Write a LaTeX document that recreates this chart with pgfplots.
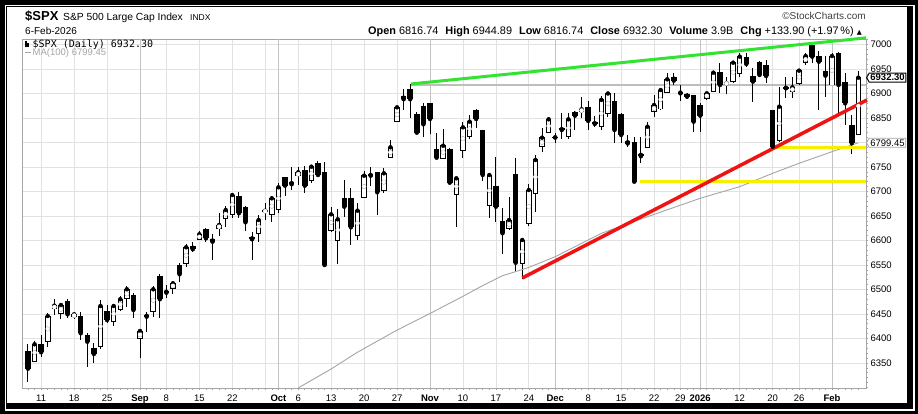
\documentclass[border=0pt]{standalone}
\usepackage{fontspec}
\setmainfont{Liberation Sans}
\newfontfamily\monofont{DejaVu Sans Mono}
\newfontfamily\dejavu{DejaVu Sans}
\usepackage{pgfplots}
\usepackage{pgfplotstable}
\pgfplotsset{compat=1.18}
\usetikzlibrary{shapes.symbols}

\definecolor{gridc}{RGB}{226,226,226}
\definecolor{monthc}{RGB}{195,195,195}
\definecolor{axisc}{RGB}{165,165,165}
\definecolor{lgreen}{RGB}{51,226,51}
\definecolor{lred}{RGB}{238,20,20}
\definecolor{lyellow}{RGB}{245,240,0}
\definecolor{magray}{RGB}{165,165,165}
\definecolor{hgray}{RGB}{190,190,190}
\newcommand\tickfont{\fontsize{9.5}{10}\selectfont}

\pgfplotstableread{
i O H L C
0 6374.4 6388.1 6310.5 6338.3
1 6354.0 6394.8 6352.0 6388.1
2 6388.7 6407.1 6362.8 6371.8
3 6393.4 6451.4 6383.2 6445.9
4 6461.6 6480.6 6448.0 6466.9
5 6451.4 6473.0 6439.1 6468.3
6 6476.5 6480.6 6441.2 6449.3
7 6444.5 6454.6 6439.1 6449.3
8 6445.9 6454.6 6396.9 6410.6
9 6407.1 6410.6 6342.5 6393.4
10 6381.2 6391.4 6350.5 6368.3
11 6383.2 6478.5 6378.0 6466.3
12 6456.0 6468.3 6432.0 6437.7
13 6434.2 6468.3 6426.0 6466.3
14 6460.1 6486.7 6456.7 6480.0
15 6482.0 6507.1 6464.9 6500.4
16 6488.7 6492.2 6442.4 6458.1
17 6400.3 6418.0 6359.5 6415.2
18 6448.0 6454.6 6413.8 6444.5
19 6456.0 6507.1 6444.5 6500.4
20 6527.5 6531.6 6442.4 6480.0
21 6497.5 6509.1 6482.0 6493.4
22 6502.4 6517.3 6490.0 6512.6
23 6549.9 6553.4 6514.6 6531.0
24 6553.4 6592.8 6545.3 6586.1
25 6588.7 6597.5 6577.1 6582.0
26 6602.4 6619.4 6601.0 6612.6
27 6622.8 6625.5 6597.5 6604.4
28 6602.4 6613.2 6560.1 6597.5
29 6624.9 6655.5 6609.1 6631.6
30 6645.3 6671.0 6628.1 6662.2
31 6653.4 6697.5 6645.3 6692.8
32 6690.8 6698.9 6645.3 6655.5
33 6667.7 6670.4 6620.0 6637.1
34 6606.5 6616.7 6560.1 6602.4
35 6614.7 6652.0 6597.5 6641.8
36 6658.7 6677.1 6641.8 6660.8
37 6654.1 6690.8 6638.3 6686.1
38 6663.6 6717.9 6655.5 6708.5
39 6728.9 6730.2 6691.4 6711.8
40 6720.0 6749.4 6703.0 6714.7
41 6731.6 6750.6 6713.2 6739.2
42 6743.9 6752.1 6697.5 6711.8
43 6722.0 6754.1 6716.7 6750.6
44 6757.5 6762.2 6731.6 6733.6
45 6739.2 6759.6 6548.5 6549.9
46 6620.0 6668.9 6617.9 6653.4
47 6599.6 6665.0 6552.0 6643.2
48 6686.1 6723.4 6648.5 6668.9
49 6686.1 6707.7 6590.8 6626.9
50 6609.8 6677.1 6601.0 6660.8
51 6688.1 6742.4 6688.0 6732.2
52 6735.1 6749.4 6711.2 6732.2
53 6739.2 6740.0 6652.0 6698.3
54 6701.6 6747.3 6697.5 6737.1
55 6769.8 6805.1 6769.8 6790.2
56 6842.4 6874.5 6841.2 6871.8
57 6894.9 6908.6 6866.3 6888.2
58 6908.6 6919.4 6849.4 6888.2
59 6857.5 6862.0 6818.7 6820.0
60 6875.1 6881.2 6811.8 6837.1
61 6880.0 6881.2 6817.3 6847.9
62 6786.1 6820.0 6766.0 6769.0
63 6766.9 6826.9 6766.0 6793.4
64 6786.1 6788.0 6715.0 6717.9
65 6694.3 6728.0 6628.1 6726.9
66 6784.7 6842.4 6767.7 6831.0
67 6813.2 6856.1 6806.5 6842.4
68 6866.3 6867.7 6829.0 6847.9
69 6825.5 6826.0 6722.0 6733.6
70 6670.4 6735.0 6645.3 6733.6
71 6711.2 6771.0 6638.3 6668.9
72 6639.8 6665.7 6572.4 6614.7
73 6624.9 6689.4 6622.0 6641.8
74 6735.7 6767.7 6535.1 6554.6
75 6553.4 6603.0 6522.0 6601.0
76 6635.1 6715.3 6630.0 6703.0
77 6694.9 6774.5 6657.5 6764.3
78 6791.4 6829.0 6781.2 6809.8
79 6820.0 6852.6 6818.7 6847.3
80 6811.0 6820.0 6798.0 6810.0
81 6829.0 6859.6 6806.5 6825.5
82 6811.8 6859.6 6806.5 6847.3
83 6862.8 6864.0 6825.5 6854.7
84 6862.8 6892.2 6849.4 6867.7
85 6871.8 6885.3 6825.5 6843.9
86 6841.0 6855.0 6832.0 6838.0
87 6832.2 6895.0 6825.5 6887.0
88 6860.0 6904.0 6853.0 6900.0
89 6884.7 6900.4 6798.4 6825.5
90 6858.2 6860.0 6798.4 6815.3
91 6803.0 6815.0 6790.0 6798.0
92 6800.4 6810.6 6718.0 6720.0
93 6777.5 6811.8 6757.5 6772.0
94 6790.2 6842.4 6790.0 6832.2
95 6862.9 6896.9 6851.4 6876.5
96 6868.4 6908.5 6866.3 6907.1
97 6902.4 6942.5 6900.3 6928.9
98 6934.4 6942.5 6917.3 6926.2
99 6903.7 6917.3 6885.4 6900.3
100 6898.3 6900.3 6889.0 6893.5
101 6896.9 6896.9 6822.1 6842.5
102 6876.5 6879.9 6822.1 6854.8
103 6890.1 6903.7 6886.7 6900.3
104 6903.7 6944.6 6903.0 6942.5
105 6944.6 6962.9 6900.3 6917.3
106 6920.0 6934.4 6899.0 6921.0
107 6924.2 6965.0 6922.0 6962.9
108 6941.2 6983.3 6934.4 6975.2
109 6973.8 6982.0 6954.8 6960.2
110 6936.4 6951.4 6883.3 6924.2
111 6965.0 6967.0 6934.4 6937.8
112 6958.2 6968.4 6922.1 6935.7
113 6866.3 6866.3 6790.1 6791.5
114 6805.1 6913.9 6801.7 6873.1
115 6912.6 6934.4 6890.1 6910.5
116 6903.7 6934.4 6890.1 6912.6
117 6920.8 6949.3 6917.3 6946.6
118 6962.9 6982.0 6958.2 6976.5
119 6999.0 7002.4 6961.6 6975.2
120 6976.5 6987.4 6866.3 6965.0
121 6946.6 6976.5 6893.5 6936.4
122 6917.3 6983.3 6917.3 6976.5
123 6982.0 6985.4 6859.5 6917.3
124 6924.2 6941.2 6835.7 6879.9
125 6835.7 6856.1 6776.5 6798.4
126 6816.74 6944.89 6816.74 6932.30
}\spx

\pgfplotstableread{
i ma
41 6299.0
46 6337.7
50 6372.0
56 6417.0
61 6451.0
66 6486.0
69 6508.0
72 6528.0
76 6545.0
80 6566.9
87 6614.6
94 6648.5
102 6686.1
108 6709.8
113 6737.1
117 6757.5
122 6781.2
126 6799.45
}\ma

\begin{document}
\begin{tikzpicture}
\useasboundingbox (0,0) rectangle (918pt,-414pt);
\fill[black] (0,0) rectangle (918pt,-414pt);
\fill[white] (5pt,-5pt) rectangle (915pt,-411pt);
\fill[black] (6pt,-6pt) rectangle (913pt,-409pt);
\fill[white] (7pt,-7pt) rectangle (907pt,-403pt);

\node[anchor=base west, inner sep=0pt] at (25pt,-21pt) {\fontsize{13}{13}\selectfont\bfseries \$SPX};
\node[anchor=base west, inner sep=0pt] at (63pt,-21pt) {\fontsize{10.3}{12}\selectfont S\&P 500 Large Cap Index};
\node[anchor=base west, inner sep=0pt] at (190pt,-21pt) {\fontsize{8.5}{10}\selectfont INDX};
\node[anchor=base west, inner sep=0pt] at (25pt,-35pt) {\fontsize{10}{10}\selectfont 6-Feb-2026};
\node[anchor=base east, inner sep=0pt] at (866pt,-20pt) {\fontsize{10}{10}\selectfont\color{darkgray}\textcopyright StockCharts.com};
\node[anchor=base east, inner sep=0pt] at (862pt,-35pt) {\fontsize{10.9}{11}\selectfont \textbf{Open} 6816.74\hspace{7pt}\textbf{High} 6944.89\hspace{7pt}\textbf{Low} 6816.74\hspace{7pt}\textbf{Close} 6932.30\hspace{7pt}\textbf{Volume} 3.9B\hspace{7pt}\textbf{Chg} +133.90 (+1.97\,\%) {\dejavu\fontsize{6.5}{6}\selectfont ▲}};

\begin{axis}[
  at={(22pt,-388pt)}, anchor=south west,
  scale only axis, width=844pt, height=349pt,
  xmin=-0.91, xmax=127.16, ymin=6298.9, ymax=7011.2,
  clip=false,
  axis line style={axisc, line width=0.8pt},
  tick align=outside,
  xtick pos=left, ytick pos=right, yticklabel pos=right,
  major tick length=2pt, minor tick length=2pt,
  tick style={axisc, line width=0.6pt},
  xtick={2,7,12,21,26,31,36,41,46,51,56,66,71,76,85,90,95,99,103,108,113,117},
  xticklabels={11,18,25,8,15,22,{},6,13,20,27,10,17,24,8,15,22,29,{},12,20,26},
  extra x ticks={17,38,61,80,102,122},
  extra x tick labels={Sep,Oct,Nov,Dec,2026,Feb},
  extra x tick style={grid=major, major grid style={monthc, line width=0.9pt}, xticklabel style={font=\tickfont\bfseries}},
  minor xtick={0,...,126},
  ytick={6350,6400,...,7000},
  yticklabels={6350,6400,6450,6500,6550,6600,6650,6700,6750,{},6850,6900,6950,7000},
  minor ytick={6300,6310,...,7010},
  xmajorgrids, ymajorgrids,
  major grid style={gridc, line width=0.8pt},
  xticklabel style={font=\tickfont, yshift=-1pt},
  yticklabel style={font=\tickfont, xshift=-1pt},
  /pgf/number format/1000 sep={},
  /pgf/number format/assume math mode=true,
]
% resistance level
\addplot[hgray, line width=2.5pt, no marks] coordinates {(58.1,6917) (127.16,6917)};
% wicks
\addplot[only marks, mark=none, black, error bars/.cd, y dir=both, y explicit, error mark=none,
  error bar style={line width=1pt, black}]
  table[x=i, y=C, y error plus expr={\thisrow{H}-\thisrow{C}}, y error minus expr={\thisrow{C}-\thisrow{L}}] {\spx};
% down bodies
\addplot[only marks, mark=none, black, restrict expr to domain={\thisrow{O}-\thisrow{C}}{0.0001:100000},
  error bars/.cd, y dir=both, y explicit, error mark=none,
  error bar style={line width=5.5pt, black, line cap=butt}]
  table[x=i, y expr={(\thisrow{O}+\thisrow{C})/2}, y error expr={max((\thisrow{O}-\thisrow{C})/2,1.0)}] {\spx};
% up bodies outline
\addplot[only marks, mark=none, black, restrict expr to domain={\thisrow{C}-\thisrow{O}}{0:100000},
  error bars/.cd, y dir=both, y explicit, error mark=none,
  error bar style={line width=5.5pt, black, line cap=butt}]
  table[x=i, y expr={(\thisrow{O}+\thisrow{C})/2}, y error expr={(\thisrow{C}-\thisrow{O})/2+1.0}] {\spx};
% up bodies fill
\addplot[only marks, mark=none, white, restrict expr to domain={\thisrow{C}-\thisrow{O}}{0:100000},
  error bars/.cd, y dir=both, y explicit, error mark=none,
  error bar style={line width=3.5pt, white, line cap=butt}]
  table[x=i, y expr={(\thisrow{O}+\thisrow{C})/2}, y error expr={max((\thisrow{C}-\thisrow{O})/2-1.0,0)}] {\spx};
% MA(100)
\addplot[magray, line width=0.9pt, no marks] table[x=i, y=ma] {\ma};
% trend lines
\addplot[lyellow, line width=3pt, no marks] coordinates {(92.9,6720.0) (127.16,6720.0)};
\addplot[lyellow, line width=3pt, no marks] coordinates {(113,6790) (127.16,6790)};
\addplot[lred, line width=3.5pt, no marks] coordinates {(75.0,6523.4) (127.3,6886.7)};
\addplot[lgreen, line width=3pt, no marks] coordinates {(58.1,6919.4) (127.16,7013.5)};
% price tags
\node[signal, signal to=west, signal pointer angle=120, draw=black, fill=white, line width=1pt, inner sep=1.2pt, anchor=west,
  font=\fontsize{9.5}{10}\selectfont\bfseries] at (axis cs:127.16,6932.30) {6932.30};
\node[signal, signal to=west, signal pointer angle=120, draw=axisc, fill=white, line width=0.8pt, inner sep=1.2pt, anchor=west,
  font=\fontsize{9.5}{10}\selectfont] at (axis cs:127.16,6799.45) {6799.45};
\end{axis}

% legend
\node[anchor=base west, inner sep=0pt] at (25pt,-47.5pt) {\rule{1.3pt}{6.5pt}\hspace{0.7pt}\rule{1.3pt}{4.5pt}};
\node[anchor=base west, inner sep=0pt] at (32.5pt,-47.5pt) {\monofont\fontsize{10}{10}\selectfont \$SPX (Daily) 6932.30};
\node[anchor=base west, inner sep=0pt] at (25pt,-56pt) {\color{magray}\rule[2.8pt]{6pt}{1pt}\hspace{1.5pt}\fontsize{9.5}{10}\selectfont MA(100) 6799.45};
\end{tikzpicture}
\end{document}
